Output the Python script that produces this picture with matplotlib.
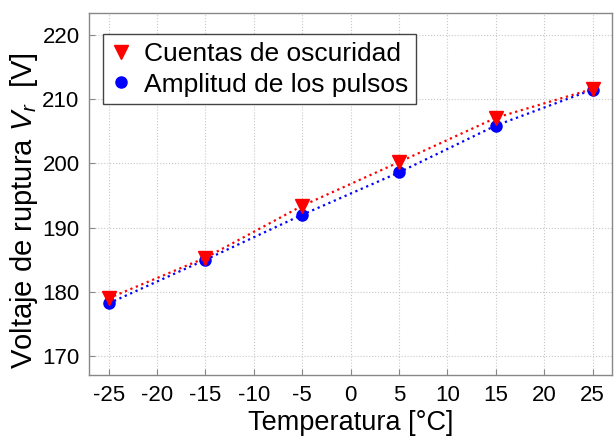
import matplotlib
matplotlib.use("Agg")
import matplotlib.pyplot as plt

plt.rcParams["font.family"] = ["Liberation Sans", "DejaVu Sans"]
plt.rcParams["mathtext.fontset"] = "custom"
plt.rcParams["mathtext.it"] = "Liberation Sans:italic"
plt.rcParams["mathtext.rm"] = "Liberation Sans"

# Breakdown voltage vs temperature, two estimation methods
temperatura = [-25, -15, -5, 5, 15, 25]
v_cuentas = [179.0, 185.3, 193.4, 200.2, 207.1, 211.6]
v_amplitud = [178.2, 185.0, 192.0, 198.6, 205.9, 211.5]

xticks = [-25, -20, -15, -10, -5, 0, 5, 10, 15, 20, 25]
yticks = [170, 180, 190, 200, 210, 220]

W, H = 616, 437
fig = plt.figure(figsize=(W / 100, H / 100), dpi=100)
ax_left, ax_right, ax_top, ax_bottom = 89.3, 612, 12.5, 375.3
ax = fig.add_axes([ax_left / W, 1 - ax_bottom / H,
                   (ax_right - ax_left) / W, (ax_bottom - ax_top) / H])

ax.plot(temperatura, v_cuentas, linestyle=":", color="#ff0000", linewidth=1.6,
        marker="v", markersize=10, markeredgecolor="#ff0000",
        markerfacecolor="#ff0000", label="Cuentas de oscuridad", zorder=3)
ax.plot(temperatura, v_amplitud, linestyle=":", color="#0000ff", linewidth=1.6,
        marker="o", markersize=8, markeredgecolor="#0000ff",
        markerfacecolor="#0000ff", label="Amplitud de los pulsos", zorder=2)

ax.set_xlim(-27, 27)
ax.set_ylim(167, 223.5)
ax.set_xticks(xticks)
ax.set_yticks(yticks)
ax.set_xticklabels([str(t) for t in xticks])

ax.grid(True, linestyle=":", color="#c8c8c8", linewidth=0.8)
ax.set_axisbelow(True)
for s in ax.spines.values():
    s.set_color("#888888")
    s.set_linewidth(1.0)
ax.tick_params(direction="in", length=4, color="#888888", labelsize=16,
               top=False, right=False, pad=7)

ax_w = ax_right - ax_left
ax_h = ax_bottom - ax_top

ax.set_xlabel("Temperatura [°C]", fontsize=19.5, va="center")
ax.xaxis.set_label_coords(0.5, -(423 - ax_bottom) / ax_h)
ax.set_ylabel("Voltaje de ruptura $V_r$  [V]", fontsize=21, va="center")
ax.yaxis.set_label_coords(-(ax_left - 24) / ax_w, 1 - (211 - ax_top) / ax_h)

leg = ax.legend(loc="upper left", fontsize=19, frameon=True, fancybox=False,
                edgecolor="#444444", framealpha=1.0, borderpad=0.3,
                handlelength=0.8, handletextpad=0.45, labelspacing=0.25,
                borderaxespad=0.0, numpoints=1,
                bbox_to_anchor=(13.4 / ax_w, 1 - 21.5 / ax_h))
for h in leg.legend_handles:
    h.set_linestyle("None")
leg.get_frame().set_linewidth(1.0)

fig.savefig("out.png", dpi=100)
